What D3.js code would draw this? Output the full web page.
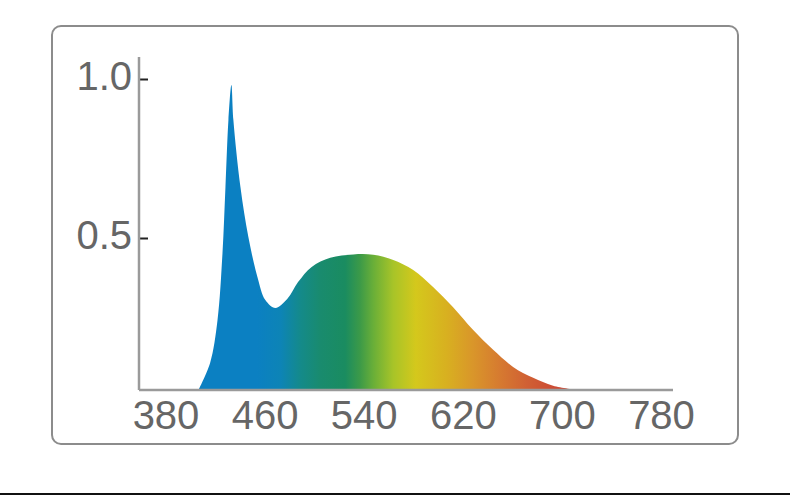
<!DOCTYPE html>
<html>
<head>
<meta charset="utf-8">
<script src="https://cdn.jsdelivr.net/npm/d3@7"></script>
<style>
    body { margin: 0; background: #fff; }
    svg { display: block; }
    .tick text { font-family: "Liberation Sans", Arial, sans-serif; font-size: 40px; fill: #666; }
</style>
</head>
<body>
<div id="chart"></div>
<script>
// spectrum (wavelength in nm, relative intensity)
const wavelengths = [406.6, 416, 422, 426, 428.4, 430.8, 433.2, 434.8, 440.5, 446.9, 454.2, 460.6, 468.7, 478.4, 487, 498, 513, 531.6, 547.7, 563.9, 580, 596, 612, 628.4, 644.5, 660.6, 676.8, 692.9, 712.3]
const intensity   = [0, 0.089, 0.23, 0.45, 0.66, 0.871, 0.981, 0.871, 0.66, 0.503, 0.372, 0.296, 0.27, 0.3, 0.355, 0.405, 0.435, 0.446, 0.445, 0.428, 0.395, 0.339, 0.273, 0.197, 0.132, 0.076, 0.04, 0.014, 0]

const xTicks = [380, 460, 540, 620, 700, 780]
const yTicks = [0.5, 1.0]

// colour stops of the fill along the wavelength
const stopNm     = [400, 454, 473, 489, 505, 525, 537, 548, 564, 582, 607, 628, 650, 672, 693, 715]
const stopColors = ['#0b80c2', '#0b80c2', '#0d84b6', '#148a8a', '#198b6e', '#1a8c60', '#3c9a48', '#6aaf38', '#a8c428', '#d4c81c', '#d8b020', '#d9962a', '#d67a30', '#d06034', '#cc4c34', '#c84434']

const w = 790
const h = 495
const plot = {left: 139, right: 673, top: 57, bottom: 390}

const svg = d3.select('#chart')
    .append('svg')
    .attr('width', w)
    .attr('height', h)

// frame round the chart
svg.append('rect')
    .attr('x', 52)
    .attr('y', 26)
    .attr('width', 686)
    .attr('height', 418)
    .attr('rx', 9)
    .attr('fill', 'none')
    .attr('stroke', '#8c8c8c')
    .attr('stroke-width', 2)

// rule along the page bottom
svg.append('line')
    .attr('x1', 0)
    .attr('x2', w)
    .attr('y1', 494)
    .attr('y2', 494)
    .attr('stroke', '#111')
    .attr('stroke-width', 2)

const x = d3.scaleLinear()
    .domain([380, 780])
    .range([165.5, 661])

const y = d3.scaleLinear()
    .domain([0, 0.5, 1])
    .range([plot.bottom, 238, 79])

const grad = svg.append('defs')
    .append('linearGradient')
    .attr('id', 'spectrum')
    .attr('gradientUnits', 'userSpaceOnUse')
    .attr('x1', x(stopNm[0]))
    .attr('x2', x(stopNm[stopNm.length - 1]))
    .attr('y1', 0)
    .attr('y2', 0)

const span = stopNm[stopNm.length - 1] - stopNm[0]
grad.selectAll('stop')
    .data(stopNm)
    .enter()
    .append('stop')
    .attr('offset', d => (d - stopNm[0]) / span)
    .attr('stop-color', (d, i) => stopColors[i])

const area = d3.area()
    .x((d, i) => x(wavelengths[i]))
    .y0(y(0))
    .y1(d => y(d))
    .curve(d3.curveCatmullRom.alpha(0.5))

svg.append('path')
    .datum(intensity)
    .attr('d', area)
    .attr('fill', 'url(#spectrum)')

// axes
const xAxis = svg.append('g')
    .attr('transform', `translate(0, ${plot.bottom})`)
    .call(d3.axisBottom(x).tickValues(xTicks).tickSize(0).tickPadding(11).tickFormat(d3.format('d')))
xAxis.select('.domain').remove()

svg.append('line')
    .attr('x1', plot.left)
    .attr('x2', plot.right)
    .attr('y1', plot.bottom)
    .attr('y2', plot.bottom)
    .attr('stroke', '#9a9a9a')
    .attr('stroke-width', 2.5)

const yAxis = svg.append('g')
    .attr('transform', `translate(${plot.left}, 0)`)
    .call(d3.axisLeft(y).tickValues(yTicks).tickSize(-9).tickPadding(7).tickFormat(d3.format('.1f')))
yAxis.select('.domain').remove()
yAxis.selectAll('.tick line').attr('stroke', '#222').attr('stroke-width', 2)
yAxis.selectAll('.tick text').attr('dy', '0.25em')

svg.append('line')
    .attr('x1', plot.left)
    .attr('x2', plot.left)
    .attr('y1', plot.top)
    .attr('y2', plot.bottom)
    .attr('stroke', '#9a9a9a')
    .attr('stroke-width', 2.5)
</script>
</body>
</html>
